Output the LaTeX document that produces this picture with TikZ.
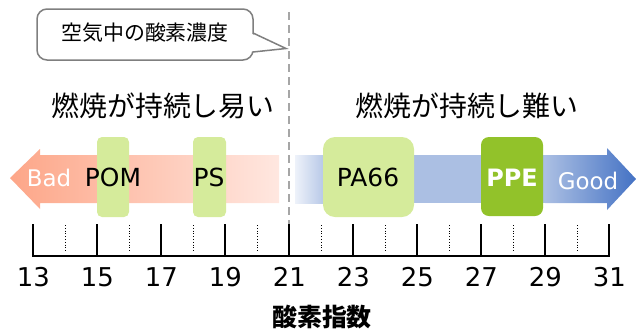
\documentclass[tikz,border=0pt]{standalone}
\usepackage{fontspec}
\setmainfont{DejaVu Sans}
\newfontfamily\jp{Noto Sans CJK JP}
\definecolor{badL}{HTML}{FDA688}
\definecolor{badR}{HTML}{FFE7E0}
\definecolor{goodL}{HTML}{EEF2FA}
\definecolor{goodM}{HTML}{ABBFE3}
\definecolor{goodR}{HTML}{4472C4}
\definecolor{lgreen}{HTML}{D5EB9B}
\definecolor{dgreen}{HTML}{92C22A}
\definecolor{dashgray}{HTML}{A6A6A6}
\definecolor{callgray}{HTML}{7F7F7F}
\tikzset{
  matbox/.style={fill=lgreen, rounded corners=5bp, inner sep=0pt},
  matlabel/.style={font=\fontsize{25}{25}\selectfont, text=black, inner sep=0pt},
  numlabel/.style={font=\fontsize{26}{26}\selectfont, inner sep=0pt},
  majortick/.style={line width=2bp, black},
  minortick/.style={line width=0.8bp, black, dotted},
  heading/.style={font=\jp\fontsize{28}{28}\selectfont, inner sep=0pt},
  callline/.style={callgray, line width=1.5bp},
}
\begin{document}
\begin{tikzpicture}[x=1bp, y=-1bp]
\useasboundingbox (0,0) rectangle (637,330);
% left (bad) arrow
\shade[left color=badL, right color=badR]
  (10,178) -- (40,149) -- (40,155) -- (279,155) -- (279,203) -- (40,203) -- (40,209) -- cycle;
% right (good) arrow
\shade[left color=goodL, right color=goodM] (295,155) rectangle (330,203);
\fill[goodM] (329,155) rectangle (546,203);
\shade[left color=goodM, right color=goodR]
  (545,155) -- (607,155) -- (607,148) -- (636,179) -- (607,210) -- (607,203) -- (545,203) -- cycle;
% material boxes
\fill[matbox] (97,137) rectangle (129,217);
\fill[matbox] (193,137) rectangle (226,217);
\fill[lgreen, rounded corners=12bp] (323,137) rectangle (414,217);
\fill[dgreen, rounded corners=8bp] (481,137) rectangle (543,216);
\node[matlabel] (pom) at (113,177) {POM};
\node[matlabel] (ps) at (209,177) {PS};
\node[matlabel] (pa) at (368,177) {PA66};
\node[inner sep=0pt, text=white, font=\fontsize{24}{24}\selectfont\bfseries] (ppe) at (512,178) {PPE};
\node[inner sep=0pt, text=white, font=\fontsize{23}{23}\selectfont] (bad) at (49,178) {Bad};
\node[inner sep=0pt, text=white, font=\fontsize{23}{23}\selectfont] (good) at (588,181) {Good};
% headings
\node[heading] (easy) at (163,106) {燃焼が持続し易い};
\node[heading] (hard) at (467,106) {燃焼が持続し難い};
% dashed line (air oxygen)
\coordinate (dtop) at (289,12);
\coordinate (dbot) at (289,226);
\draw[dashgray, line width=2bp, dash pattern=on 8bp off 5bp] (dtop) -- (dbot);
% callout
\draw[callline, fill=white, rounded corners=10bp] (37,9) rectangle (253,60);
\fill[white] (251,33.5) -- (285,48.5) -- (251,51.5) -- cycle;
\draw[callline, line join=miter] (253,33) -- (286,48.5) -- (253,52);
\node[inner sep=0pt, font=\jp\fontsize{21}{21}\selectfont] (call) at (145,33) {空気中の酸素濃度};
% axis
\draw[majortick] (33.3,255.7) -- (609.3,255.7);
\foreach \v in {13,15,...,31}{
  \draw[majortick] ({33.3+32*(\v-13)},224) -- ({33.3+32*(\v-13)},256.5);
  \node[numlabel] (n\v) at ({33.3+32*(\v-13)},277) {\v};
}
\foreach \v in {14,16,...,30}{
  \draw[minortick] ({33.3+32*(\v-13)},225) -- ({33.3+32*(\v-13)},252);
}
\node[inner sep=0pt, font=\jp\bfseries\fontsize{25}{25}\selectfont] (xlabel) at (322,317) {酸素指数};
\end{tikzpicture}
\end{document}
